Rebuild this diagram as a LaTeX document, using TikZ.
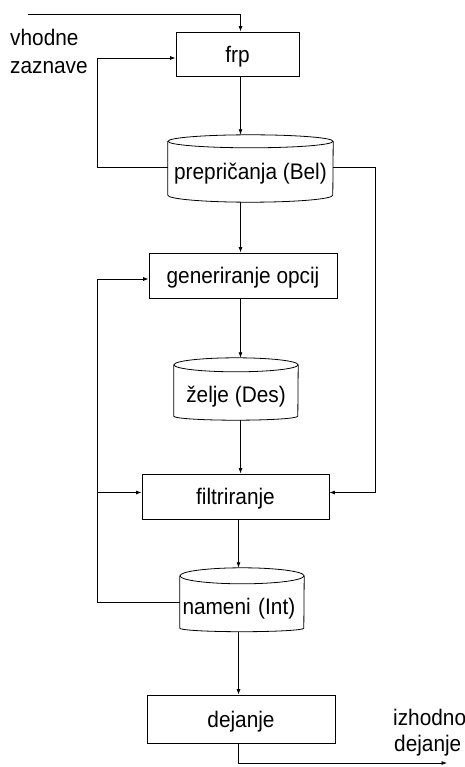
\documentclass[tikz,border=0pt]{standalone}
\usepackage{fontspec}
\setmainfont{Liberation Sans}
\newfontfamily\diagfont[FakeStretch=0.925]{Liberation Sans}
\usetikzlibrary{arrows.meta,calc}

\tikzset{
  flow/.style={draw=black, line width=0.8pt},
  arr/.style={flow, -{Latex[length=5.5pt,width=4pt]}},
  txt/.style={font=\diagfont\fontsize{22.5}{26}\selectfont},
  procbox/.style={txt, text depth=0pt, draw=black, line width=0.8pt, rectangle, inner sep=0pt},
  drumbody/.style={txt, text depth=0pt, rectangle, inner sep=0pt},
  caption/.style={txt, anchor=base west, inner sep=0pt},
}

% storage drum around a body node: name, half width, top ellipse radius, bottom bulge
\newcommand\drawdrum[4]{%
  \draw[flow] ([yshift=#3]#1.north) ellipse [x radius=#2, y radius=#3];
  \draw[flow] ([yshift=#3]#1.north west) -- (#1.south west)
    arc [start angle=180, end angle=360, x radius=#2, y radius=#4]
    -- ([yshift=#3]#1.north east);
  \coordinate (#1-top) at ([yshift=2*#3]#1.north);
  \coordinate (#1-bot) at ([yshift=-#4]#1.south);
}

\begin{document}
\begin{tikzpicture}[x=1pt, y=-1pt]
  \useasboundingbox (0,0) rectangle (465,767);

  % process boxes
  \node[procbox, minimum width=123pt, minimum height=44pt] (frp)  at (237.5,54)  {frp};
  \node[procbox, minimum width=188pt, minimum height=45pt] (gen)  at (243,275.5) {generiranje opcij};
  \node[procbox, minimum width=187pt, minimum height=45pt] (filt) at (235.5,496.5) {filtriranje};
  \node[procbox, minimum width=188pt, minimum height=48pt] (dej)  at (241,719)   {dejanje};

  % data stores
  \node[drumbody, minimum width=165pt, minimum height=47pt] (bel) at (250.5,171.5) {prepričanja (Bel)};
  \drawdrum{bel}{82.5pt}{6.5pt}{7pt}
  \node[drumbody, minimum width=124pt, minimum height=44pt] (des) at (236,394) {želje (Des)};
  \drawdrum{des}{62pt}{7pt}{4pt}
  \node[drumbody, text width=119pt, align=left, inner xsep=2.5pt, minimum height=44pt] (int) at (242,606) {nameni (Int)};
  \drawdrum{int}{62pt}{8pt}{3.5pt}

  % side captions
  \node[caption] (inlab1)  at (10,46)  {vhodne};
  \node[caption] (inlab2)  at (10,74)  {zaznave};
  \node[caption] (outlab1) at (393,725) {izhodno};
  \node[caption] (outlab2) at (394,751) {dejanje};

  % helper coordinates
  \coordinate (spine)  at (240.5,0);
  \coordinate (spineb) at (238.5,0);
  \coordinate (in)  at (28,14);
  \coordinate (out) at (447,763);

  % main flow
  \draw[arr] (in) -| (frp.north -| spine);
  \draw[arr] (frp.south -| spine) -- (bel-top -| spine);
  \draw[arr] (bel-bot -| spine) -- (gen.north -| spine);
  \draw[arr] (gen.south -| spine) -- (des-top -| spine);
  \draw[arr] (des-bot -| spine) -- (filt.north -| spine);
  \draw[arr] (filt.south -| spineb) -- (int-top -| spineb);
  \draw[arr] (int-bot -| spineb) -- (dej.north -| spineb);
  \draw[arr] (dej.south -| spineb) |- (out);

  % feedback from beliefs
  \draw[arr] ([yshift=4.5pt]bel.west) -- ++(-70pt,0) |- ([yshift=-4pt]frp.west);
  \draw[arr] ([yshift=4.5pt]bel.east) -- ++(42pt,0) |- ([yshift=4pt]filt.east);

  % feedback from intentions
  \draw[arr] ([yshift=4pt]int.west) -- ++(-82pt,0) |- ([yshift=-3.5pt]gen.west);
  \draw[arr] ([yshift=4pt]filt.west) ++(-44pt,0) -- ([yshift=4pt]filt.west);
\end{tikzpicture}
\end{document}
